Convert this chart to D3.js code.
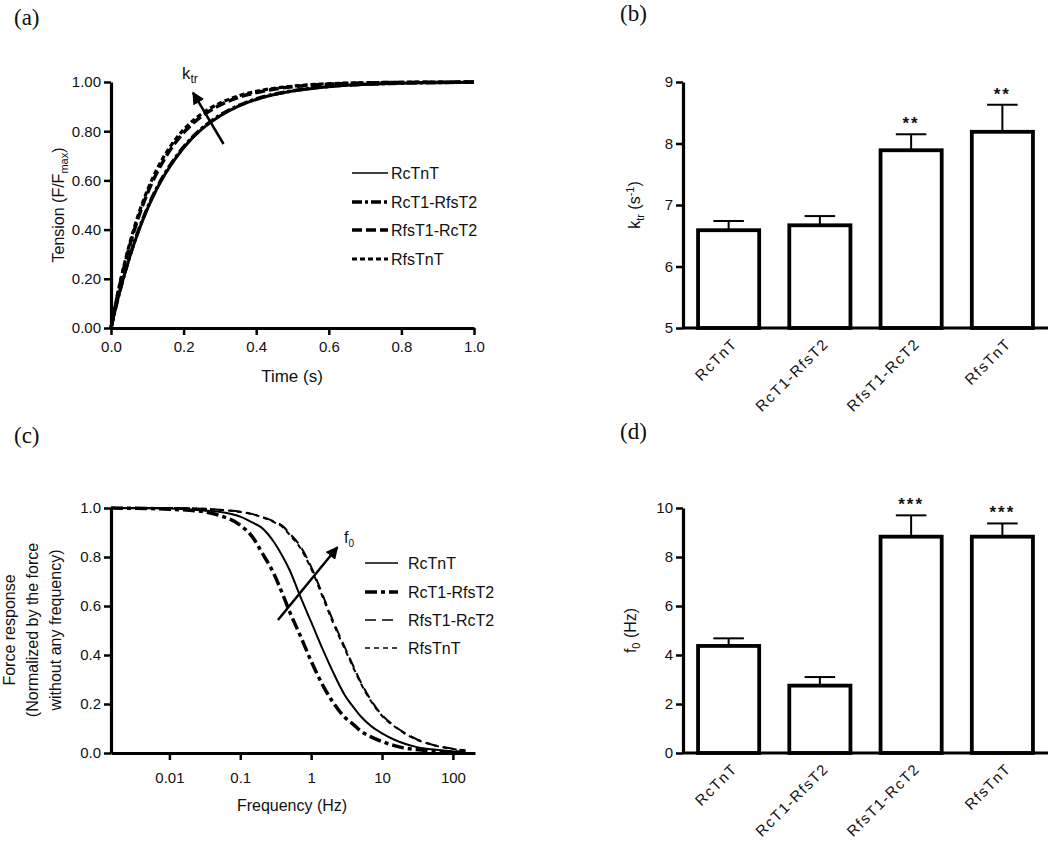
<!DOCTYPE html>
<html><head><meta charset="utf-8">
<script src="https://cdn.jsdelivr.net/npm/d3@7/dist/d3.min.js"></script>
<style>
body{margin:0;background:#fff}
text{font-family:"Liberation Sans",Arial,sans-serif;fill:#111}
</style>
</head><body>
<svg id="chart" width="1050" height="843"></svg>
<script>
// ---------------- DATA ----------------
const seriesNames = ["RcTnT", "RcT1-RfsT2", "RfsT1-RcT2", "RfsTnT"];

// (a) tension redevelopment, time (s) vs F/Fmax
const aTime = [0, 0.02, 0.05, 0.075, 0.1, 0.125, 0.15, 0.2, 0.25, 0.3, 0.35, 0.4, 0.5, 0.6, 0.7, 0.8, 0.9, 1.0];
const aRcTnT     = [0, 0.124, 0.281, 0.390, 0.483, 0.562, 0.628, 0.733, 0.808, 0.862, 0.901, 0.929, 0.963, 0.981, 0.990, 0.995, 0.997, 0.999];
const aRcT1RfsT2 = [0, 0.125, 0.284, 0.394, 0.487, 0.566, 0.632, 0.736, 0.811, 0.865, 0.903, 0.931, 0.964, 0.982, 0.991, 0.995, 0.998, 0.999];
const aRfsT1RcT2 = [0, 0.146, 0.326, 0.447, 0.546, 0.627, 0.694, 0.794, 0.861, 0.906, 0.937, 0.957, 0.981, 0.991, 0.996, 0.998, 0.999, 1.0];
const aRfsTnT    = [0, 0.151, 0.336, 0.459, 0.559, 0.641, 0.707, 0.806, 0.871, 0.914, 0.943, 0.962, 0.983, 0.993, 0.997, 0.999, 1.0, 1.0];
const aXTicks = [0, 0.2, 0.4, 0.6, 0.8, 1.0];
const aYTicks = [0, 0.2, 0.4, 0.6, 0.8, 1.0];

// (b) ktr bars
const bCategories = ["RcTnT", "RcT1-RfsT2", "RfsT1-RcT2", "RfsTnT"];
const bMean = [6.59, 6.67, 7.89, 8.19];
const bErr  = [0.15, 0.15, 0.26, 0.44];
const bStars = ["", "", "**", "**"];
const bYTicks = [5, 6, 7, 8, 9];

// (c) frequency response
const cFreq = [0.0015, 0.01, 0.03, 0.05, 0.1, 0.15, 0.2, 0.3, 0.4, 0.5, 0.7, 1, 1.5, 2, 3, 4, 5, 7, 10, 15, 20, 30, 50, 100, 150];
const cRcTnT     = [1.0, 0.998, 0.99, 0.985, 0.965, 0.94, 0.92, 0.86, 0.80, 0.745, 0.64, 0.535, 0.415, 0.335, 0.235, 0.185, 0.15, 0.11, 0.08, 0.054, 0.04, 0.025, 0.015, 0.006, 0.004];
const cRcT1RfsT2 = [1.0, 0.995, 0.985, 0.97, 0.93, 0.88, 0.82, 0.73, 0.645, 0.575, 0.48, 0.375, 0.27, 0.21, 0.145, 0.115, 0.09, 0.066, 0.047, 0.03, 0.021, 0.014, 0.008, 0.004, 0.003];
const cRfsT1RcT2 = [1.0, 1.0, 0.997, 0.993, 0.985, 0.975, 0.965, 0.945, 0.925, 0.895, 0.845, 0.76, 0.635, 0.545, 0.43, 0.35, 0.29, 0.215, 0.155, 0.11, 0.085, 0.058, 0.035, 0.017, 0.011];
const cRfsTnT    = [1.0, 1.0, 0.997, 0.993, 0.984, 0.974, 0.963, 0.942, 0.921, 0.89, 0.838, 0.752, 0.627, 0.537, 0.423, 0.344, 0.285, 0.211, 0.152, 0.108, 0.083, 0.056, 0.034, 0.016, 0.01];
const cXTicks = [0.01, 0.1, 1, 10, 100];
const cXTickLabels = ["0.01", "0.1", "1", "10", "100"];
const cYTicks = [0, 0.2, 0.4, 0.6, 0.8, 1.0];

// (d) f0 bars
const dCategories = ["RcTnT", "RcT1-RfsT2", "RfsT1-RcT2", "RfsTnT"];
const dMean = [4.37, 2.75, 8.83, 8.83];
const dErr  = [0.31, 0.35, 0.87, 0.54];
const dStars = ["", "", "***", "***"];
const dYTicks = [0, 2, 4, 6, 8, 10];

// ---------------- DRAWING ----------------
const svg = d3.select("#chart");
const defs = svg.append("defs");
defs.append("marker").attr("id", "arrowhead").attr("viewBox", "0 0 10 10")
  .attr("refX", 9).attr("refY", 5).attr("markerWidth", 5).attr("markerHeight", 5)
  .attr("markerUnits", "strokeWidth").attr("orient", "auto")
  .append("path").attr("d", "M0,0 L10,5 L0,10 z").attr("fill", "#000");

const aStyles = [
  {dash: null, w: 3, lw: 1.6},
  {dash: "10,3,3,3", w: 3.5, lw: 3.5},
  {dash: "10,4", w: 3.5, lw: 3.5},
  {dash: "5,3", w: 3.2, lw: 3}
];
const cStyles = [
  {dash: null, w: 2, lw: 1.6},
  {dash: "12,4,4,4", w: 3.5, lw: 3.5},
  {dash: "11,6", w: 2, lw: 1.6},
  {dash: "5,4", w: 2, lw: 1.6}
];

function styleAxis(g) {
  g.select(".domain").attr("stroke", "#000").attr("stroke-width", 3.2);
  g.selectAll(".tick line").attr("stroke", "#000").attr("stroke-width", 2.5);
  g.selectAll(".tick text").style("font-size", "15px").attr("fill", "#111");
}

function panelLabel(txt, x, y) {
  svg.append("text").attr("x", x).attr("y", y).text(txt)
    .style("font-family", "'Liberation Serif','Times New Roman',serif").style("font-size", "23px");
}

// ---------- Panel (a) ----------
(function () {
  const x = d3.scaleLinear().domain([0, 1]).range([111, 474]);
  const y = d3.scaleLinear().domain([0, 1]).range([328, 82]);
  const g = svg.append("g");
  const series = [aRcTnT, aRcT1RfsT2, aRfsT1RcT2, aRfsTnT];
  const line = d3.line().x((d, i) => x(aTime[i])).y(d => y(d)).curve(d3.curveMonotoneX);
  series.forEach((s, k) => {
    g.append("path").datum(s).attr("d", line).attr("fill", "none").attr("stroke", "#000")
      .attr("stroke-width", aStyles[k].w).attr("stroke-dasharray", aStyles[k].dash);
  });
  const xa = g.append("g").attr("transform", "translate(0,328)")
    .call(d3.axisBottom(x).tickValues(aXTicks).tickFormat(d3.format(".1f")).tickSize(7).tickSizeOuter(0).tickPadding(6));
  styleAxis(xa);
  const ya = g.append("g").attr("transform", "translate(111,0)")
    .call(d3.axisLeft(y).tickValues(aYTicks).tickFormat(d3.format(".2f")).tickSize(7).tickSizeOuter(0).tickPadding(3));
  styleAxis(ya);
  g.append("text").attr("x", 292).attr("y", 382).attr("text-anchor", "middle").style("font-size", "17px").text("Time (s)");
  const yt = g.append("text").attr("transform", "translate(64,205) rotate(-90)").attr("text-anchor", "middle").style("font-size", "16px");
  yt.append("tspan").text("Tension (F/F");
  yt.append("tspan").text("max").style("font-size", "11px").attr("dy", 4);
  yt.append("tspan").text(")").attr("dy", -4);
  // ktr arrow
  g.append("line").attr("x1", x(0.31)).attr("y1", y(0.748)).attr("x2", x(0.226)).attr("y2", y(0.957))
    .attr("stroke", "#000").attr("stroke-width", 2.5).attr("marker-end", "url(#arrowhead)");
  const kt = g.append("text").attr("x", 182).attr("y", 79).style("font-size", "17px");
  kt.append("tspan").text("k");
  kt.append("tspan").text("tr").style("font-size", "12px").attr("dy", 4);
  // legend
  const ly = [173, 202, 230, 259];
  seriesNames.forEach((n, k) => {
    g.append("line").attr("x1", 352).attr("x2", 388).attr("y1", ly[k]).attr("y2", ly[k])
      .attr("stroke", "#000").attr("stroke-width", aStyles[k].lw).attr("stroke-dasharray", aStyles[k].dash);
    g.append("text").attr("x", 391).attr("y", ly[k] + 6).style("font-size", "16px").text(n);
  });
})();

// ---------- bar panel helper ----------
function barPanel(cats, mean, err, stars, yDomain, yTicks, yTop, yBot, titleNodes, titleX) {
  const x = d3.scaleBand().domain(cats).range([683, 1048]).paddingInner(0.33).paddingOuter(0.165);
  const y = d3.scaleLinear().domain(yDomain).range([yBot, yTop]);
  const g = svg.append("g");
  const bw = x.bandwidth();
  cats.forEach((c, i) => {
    g.append("rect").attr("x", x(c)).attr("y", y(mean[i])).attr("width", bw)
      .attr("height", y(yDomain[0]) - y(mean[i])).attr("fill", "#fff").attr("stroke", "#000").attr("stroke-width", 3.8);
    const cx = x(c) + bw / 2;
    g.append("line").attr("x1", cx).attr("x2", cx).attr("y1", y(mean[i])).attr("y2", y(mean[i] + err[i]))
      .attr("stroke", "#000").attr("stroke-width", 2);
    g.append("line").attr("x1", cx - bw / 4).attr("x2", cx + bw / 4).attr("y1", y(mean[i] + err[i])).attr("y2", y(mean[i] + err[i]))
      .attr("stroke", "#000").attr("stroke-width", 2);
    if (stars[i]) {
      g.append("text").attr("x", cx).attr("y", y(mean[i] + err[i]) - 5).attr("text-anchor", "middle")
        .style("font-size", "17px").style("font-weight", "bold").style("letter-spacing", "2px").text(stars[i]);
    }
    g.append("text").attr("transform", `translate(${cx + 6},${yBot + 13}) rotate(-45)`)
      .attr("text-anchor", "end").attr("dy", "0.35em").style("font-size", "15px").style("letter-spacing", "1.5px").text(c);
  });
  const ya = g.append("g").attr("transform", "translate(683,0)")
    .call(d3.axisLeft(y).tickValues(yTicks).tickFormat(d3.format("d")).tickSize(7).tickSizeOuter(0).tickPadding(3));
  styleAxis(ya);
  g.append("line").attr("x1", 683).attr("x2", 1048).attr("y1", yBot).attr("y2", yBot).attr("stroke", "#000").attr("stroke-width", 3.2);
  const t = g.append("text").attr("transform", `translate(${titleX},${(yTop + yBot) / 2}) rotate(-90)`)
    .attr("text-anchor", "middle").style("font-size", "16px");
  titleNodes.forEach(n => {
    const ts = t.append("tspan").text(n.t);
    if (n.size) ts.style("font-size", n.size);
    if (n.dy) ts.attr("dy", n.dy);
  });
}

barPanel(bCategories, bMean, bErr, bStars, [5, 9], bYTicks, 82, 328,
  [{t: "k"}, {t: "tr", size: "11px", dy: 4}, {t: " (s", dy: -4}, {t: "-1", size: "11px", dy: -6}, {t: ")", dy: 6}], 640);

barPanel(dCategories, dMean, dErr, dStars, [0, 10], dYTicks, 508, 753,
  [{t: "f"}, {t: "0", size: "11px", dy: 4}, {t: " (Hz)", dy: -4}], 636);

// ---------- Panel (c) ----------
(function () {
  const x = d3.scaleLog().domain([0.0015, 205]).range([111, 475]);
  const y = d3.scaleLinear().domain([0, 1]).range([753, 508]);
  const g = svg.append("g");
  const series = [cRcTnT, cRcT1RfsT2, cRfsT1RcT2, cRfsTnT];
  const line = d3.line().x((d, i) => x(cFreq[i])).y(d => y(d)).curve(d3.curveMonotoneX);
  series.forEach((s, k) => {
    g.append("path").datum(s).attr("d", line).attr("fill", "none").attr("stroke", "#000")
      .attr("stroke-width", cStyles[k].w).attr("stroke-dasharray", cStyles[k].dash);
  });
  const xa = g.append("g").attr("transform", "translate(0,753)")
    .call(d3.axisBottom(x).tickValues(cXTicks).tickFormat((d, i) => cXTickLabels[i]).tickSize(7).tickSizeOuter(0).tickPadding(12));
  styleAxis(xa);
  const ya = g.append("g").attr("transform", "translate(111,0)")
    .call(d3.axisLeft(y).tickValues(cYTicks).tickFormat(d3.format(".1f")).tickSize(7).tickSizeOuter(0).tickPadding(3));
  styleAxis(ya);
  g.append("text").attr("x", 292).attr("y", 811).attr("text-anchor", "middle").style("font-size", "16px").text("Frequency (Hz)");
  const yLines = ["Force response", "(Normalized by the force", "without any frequency)"];
  const yx = [15, 38, 61];
  yLines.forEach((l, i) => {
    g.append("text").attr("transform", `translate(${yx[i]},630) rotate(-90)`).attr("text-anchor", "middle")
      .style("font-size", "16px").text(l);
  });
  // f0 arrow
  g.append("line").attr("x1", x(0.34)).attr("y1", y(0.543)).attr("x2", x(2.35)).attr("y2", y(0.84))
    .attr("stroke", "#000").attr("stroke-width", 2.5).attr("marker-end", "url(#arrowhead)");
  const ft = g.append("text").attr("x", 344).attr("y", 543).style("font-size", "16px");
  ft.append("tspan").text("f");
  ft.append("tspan").text("0").style("font-size", "10px").attr("dy", 4);
  // legend
  const ly = [563, 592, 620, 648];
  seriesNames.forEach((n, k) => {
    g.append("line").attr("x1", 365).attr("x2", 398).attr("y1", ly[k]).attr("y2", ly[k])
      .attr("stroke", "#000").attr("stroke-width", cStyles[k].lw).attr("stroke-dasharray", cStyles[k].dash);
    g.append("text").attr("x", 408).attr("y", ly[k] + 6).style("font-size", "16px").text(n);
  });
})();

panelLabel("(a)", 14, 25);
panelLabel("(b)", 620, 21);
panelLabel("(c)", 14, 443);
panelLabel("(d)", 620, 439);
</script>
</body></html>
